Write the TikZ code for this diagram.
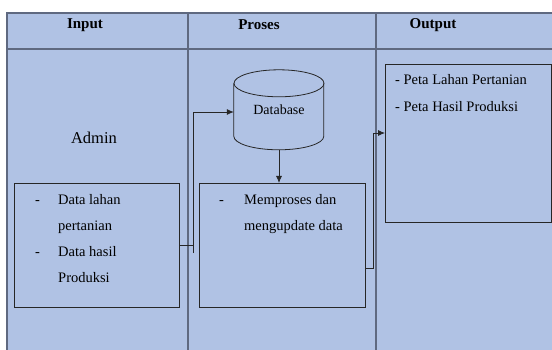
\documentclass[tikz,border=0pt]{standalone}
\usepackage{fontspec}
\setmainfont{Liberation Serif}
\usetikzlibrary{shapes.geometric,arrows.meta,positioning}
\definecolor{lanefill}{RGB}{176,194,228}
\definecolor{laneline}{RGB}{95,105,128}

\begin{document}
\begin{tikzpicture}[x=1pt,y=-1pt,
        lane/.style={draw=laneline, line width=1.2pt},
        head/.style={font=\fontsize{15}{17}\selectfont\bfseries},
        box/.style={draw=black!85, line width=0.8pt, anchor=north west},
        item/.style={font=\fontsize{14.5}{26}\selectfont, anchor=north west, inner sep=0pt},
        flow/.style={draw=black!85, line width=0.8pt},
        arrow/.style={flow, -{Latex[length=7pt,width=6pt]}},
    ]
    \useasboundingbox (0,0) rectangle (552,350);
    % swimlanes
    \fill[lanefill] (7,13) rectangle (560,360);
    \draw[lane] (560,13) -- (7,13) -- (7,360);
    \draw[lane] (7,49) -- (560,49);
    \draw[lane] (188,13) -- (188,360);
    \draw[lane] (376,13) -- (376,360);
    \node[head] (hin) at (85,25) {Input};
    \node[head] (hproc) at (259,25) {Proses};
    \node[head] (hout) at (433,25) {Output};

    % input
    \node[font=\fontsize{16.5}{18}\selectfont] (admin) at (94,138) {Admin};
    \node[box, minimum width=165pt, minimum height=124pt] (inbox) at (14,183) {};
    \node[item] (intext) at (35,186) {\begin{tabular}{@{}p{23pt}@{}l@{}}
        - & Data lahan\\
          & pertanian\\
        - & Data hasil\\
          & Produksi
    \end{tabular}};

    % proses
    \node[minimum width=90pt, minimum height=80pt, inner sep=0pt,
        font=\fontsize{14}{16}\selectfont] (db) at (279,110) {Database};
    \draw[flow] (db.north west) ++(0,13.5) -- ++(0,53)
        arc[start angle=180, end angle=0, x radius=45, y radius=13.5] -- ++(0,-53);
    \draw[flow] ([yshift=-13.5pt]db.north) ellipse [x radius=45, y radius=13.5];
    \node[box, minimum width=166pt, minimum height=124pt] (procbox) at (199,183) {};
    \node[item] (proctext) at (219,186) {\begin{tabular}{@{}p{25pt}@{}l@{}}
        - & Memproses dan\\
          & mengupdate data
    \end{tabular}};

    % output
    \node[box, minimum width=166pt, minimum height=158pt] (outbox) at (385,64) {};
    \node[item, font=\fontsize{14.5}{27}\selectfont] (outtext) at (395,65) {\begin{tabular}{@{}l@{}}
        - Peta Lahan Pertanian\\
        - Peta Hasil Produksi
    \end{tabular}};

    % connectors
    \coordinate (bendA) at (193,253);
    \coordinate (bendB) at (373,133);
    \draw[flow] (inbox.east) -- (inbox.east -| bendA);
    \draw[arrow] (bendA) |- ([yshift=-2pt]db.west);
    \draw[arrow] (db.south) -- (procbox.north -| db.south);
    \draw[flow] ([yshift=-23pt]procbox.east) -| (bendB);
    \draw[arrow] (bendB) -- (bendB -| outbox.west);
\end{tikzpicture}
\end{document}
